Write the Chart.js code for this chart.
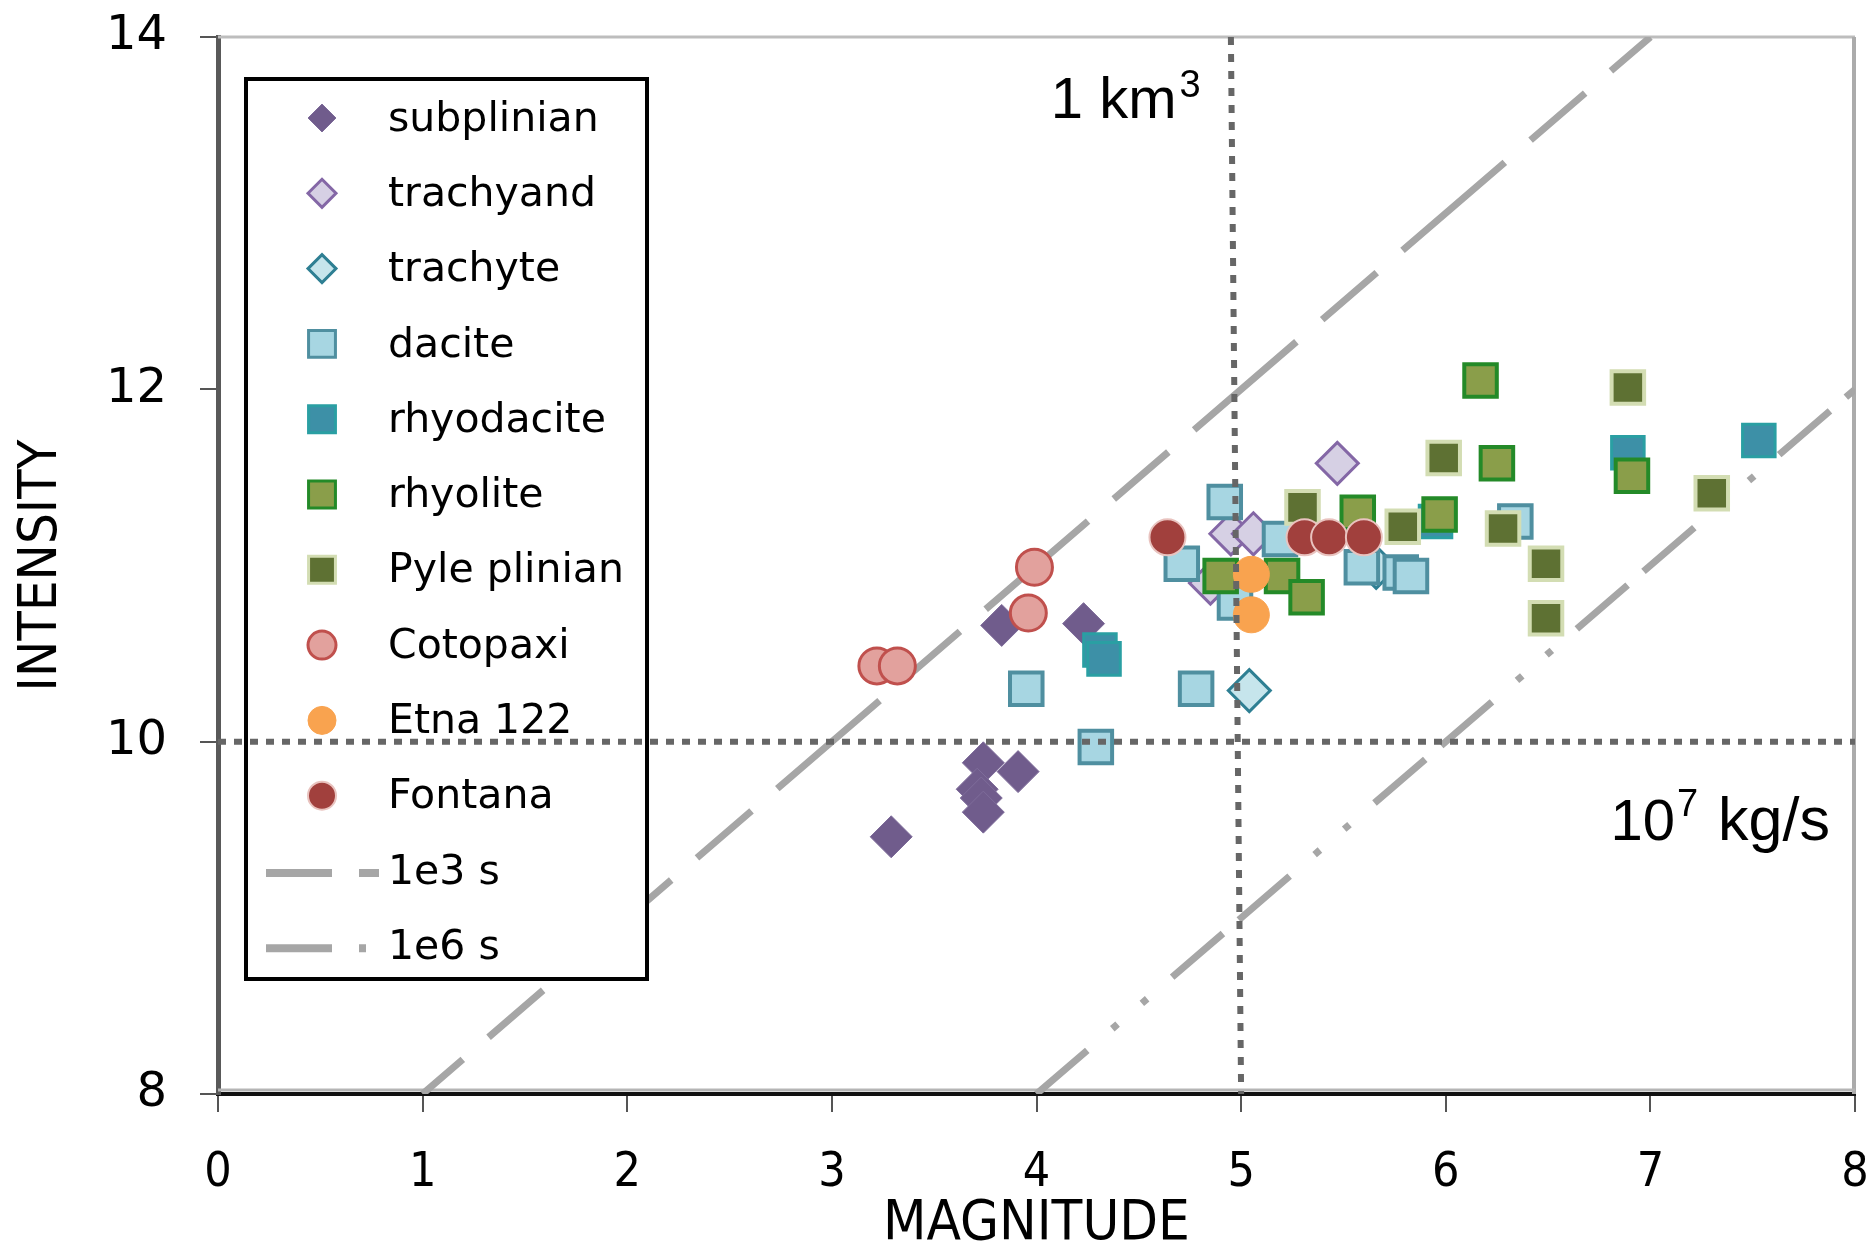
<!DOCTYPE html>
<html>
<head>
<meta charset="utf-8">
<script src="https://cdn.jsdelivr.net/npm/chart.js@4/dist/chart.umd.min.js"></script>
<style>
  html, body { margin: 0; padding: 0; background: #fff; }
  #wrap { width: 1872px; height: 1250px; }
</style>
</head>
<body>
<div id="wrap"><canvas id="c" width="1872" height="1250"></canvas></div>
<script>
// ---------------- DATA ----------------
const seriesNames = ['subplinian','trachyand','trachyte','dacite','rhyodacite','rhyolite','Pyle plinian','Cotopaxi','Etna 122','Fontana'];

const subplinianM = [3.29, 3.83, 4.23, 3.74, 3.91, 3.71, 3.73, 3.74];
const subplinianI = [9.46, 10.66, 10.67, 9.88, 9.83, 9.73, 9.68, 9.60];

const trachyandM = [5.47, 4.95, 5.06, 4.85];
const trachyandI = [11.58, 11.18, 11.18, 10.90];

const trachyteM = [5.04, 5.66];
const trachyteI = [10.29, 10.99];

const daciteM = [3.95, 4.78, 4.29, 4.71, 4.92, 5.19, 4.97, 5.59, 5.78, 5.83, 6.34];
const daciteI = [10.30, 10.30, 9.97, 11.01, 11.36, 11.15, 10.79, 10.99, 10.96, 10.94, 11.25];

const rhyodaciteM = [4.31, 4.33, 6.89, 7.53, 5.95];
const rhyodaciteI = [10.52, 10.47, 11.64, 11.71, 11.25];

const rhyoliteM = [6.17, 6.25, 6.91, 5.97, 5.57, 4.90, 5.20, 5.32];
const rhyoliteI = [12.05, 11.58, 11.51, 11.29, 11.30, 10.94, 10.94, 10.82];

const pyleM = [5.30, 5.79, 6.89, 5.99, 6.28, 6.49, 6.49, 7.30];
const pyleI = [11.33, 11.22, 12.01, 11.61, 11.21, 11.01, 10.70, 11.41];

const cotopaxiM = [3.99, 3.96, 3.22, 3.32];
const cotopaxiI = [10.99, 10.73, 10.43, 10.43];

const etnaM = [5.05, 5.05];
const etnaI = [10.95, 10.72];

const fontanaM = [4.64, 5.31, 5.43, 5.60];
const fontanaI = [11.16, 11.16, 11.16, 11.16];

// reference lines
const line1e3M = [1, 7];   const line1e3I = [8, 14];
const line1e6M = [4, 8];   const line1e6I = [8, 12];
const km3M = [4.95, 5.0];  const km3I = [14, 8];
const rateM = [0, 8];      const rateI = [10, 10];

const xTicks = [0,1,2,3,4,5,6,7,8];
const yTicks = [8,10,12,14];

// ---------------- BUILD ----------------
function pts(m, i) { return m.map((v, k) => ({ x: v, y: i[k] })); }

const styles = [
  { style: 'rectRot', r: 21, bg: '#705C8C', bc: '#7E6C9A', bw: 1, lr: 14 },
  { style: 'rectRot', r: 21, bg: '#D6D0E4', bc: '#8467A6', bw: 3, lr: 14 },
  { style: 'rectRot', r: 21, bg: '#C6E5EC', bc: '#2E7F93', bw: 3, lr: 14 },
  { style: 'rect',    r: 23, bg: '#A7D6E2', bc: '#4F8FA0', bw: 4, lr: 19 },
  { style: 'rect',    r: 23, bg: '#3D90A7', bc: '#2A9FA3', bw: 3, lr: 19 },
  { style: 'rect',    r: 23, bg: '#8A9E4A', bc: '#248A28', bw: 4, lr: 19 },
  { style: 'rect',    r: 23, bg: '#5E7133', bc: '#D3DDB3', bw: 4, lr: 19 },
  { style: 'circle',  r: 18, bg: '#E2A19D', bc: '#C0504D', bw: 3, lr: 14 },
  { style: 'circle',  r: 18, bg: '#F9A34F', bc: '#F9A34F', bw: 1, lr: 14 },
  { style: 'circle',  r: 18, bg: '#A1403D', bc: '#E9C3BF', bw: 2, lr: 14 }
];
const seriesData = [
  pts(subplinianM, subplinianI), pts(trachyandM, trachyandI), pts(trachyteM, trachyteI),
  pts(daciteM, daciteI), pts(rhyodaciteM, rhyodaciteI), pts(rhyoliteM, rhyoliteI),
  pts(pyleM, pyleI), pts(cotopaxiM, cotopaxiI), pts(etnaM, etnaI), pts(fontanaM, fontanaI)
];

const datasets = seriesNames.map((name, k) => ({
  label: name,
  data: seriesData[k],
  showLine: false,
  pointStyle: styles[k].style,
  pointRadius: styles[k].r,
  pointBackgroundColor: styles[k].bg,
  pointBorderColor: styles[k].bc,
  pointBorderWidth: styles[k].bw,
  order: 50 - k,
  kind: 'marker',
  legendStyle: styles[k]
}));

const GREY = '#A6A6A6';
datasets.push({
  label: '1e3 s', data: pts(line1e3M, line1e3I), showLine: true, pointRadius: 0,
  borderColor: GREY, borderWidth: 7, borderDash: [135, 34, 72, 34], borderDashOffset: 82,
  order: 100, kind: 'line', legendDash: [66, 27, 20]
});
datasets.push({
  label: '1e6 s', data: pts(line1e6M, line1e6I), showLine: true, pointRadius: 0,
  borderColor: GREY, borderWidth: 7, borderDash: [67, 21, 67, 33, 7, 32, 7, 33], borderDashOffset: 88,
  order: 100, kind: 'line', legendDash: [66, 27, 7, 100]
});
datasets.push({
  label: '1 km3', data: pts(km3M, km3I), showLine: true, pointRadius: 0,
  borderColor: '#666666', borderWidth: 6, borderDash: [8, 9], order: 0, kind: 'ref', clip: false
});
datasets.push({
  label: '1e7 kg/s', data: pts(rateM, rateI), showLine: true, pointRadius: 0,
  borderColor: '#666666', borderWidth: 6, borderDash: [8, 8], order: 0, kind: 'ref', clip: false
});

// ---------------- PLUGINS ----------------
let legendDrawn = false;
function drawLegend(chart) {
  const ctx = chart.ctx, ca = chart.chartArea;
  const L = ca.left + 28, T = ca.top + 42, W = 401, Hh = 900;
  ctx.save();
  ctx.fillStyle = '#ffffff';
  ctx.fillRect(L, T, W, Hh);
  ctx.lineWidth = 4;
  ctx.strokeStyle = '#000000';
  ctx.strokeRect(L, T, W, Hh);
  const items = chart.data.datasets.filter(d => d.kind === 'marker' || d.kind === 'line');
  items.forEach((d, i) => {
    const y = T + 39 + i * 75.3;
    if (d.kind === 'marker') {
      const s = d.legendStyle;
      ctx.fillStyle = s.bg; ctx.strokeStyle = s.bc; ctx.lineWidth = Math.min(s.bw, 3);
      Chart.helpers.drawPoint(ctx, { pointStyle: s.style, radius: s.lr, borderWidth: Math.min(s.bw, 3), rotation: 0 }, L + 76, y);
    } else {
      ctx.save();
      ctx.strokeStyle = GREY; ctx.lineWidth = 8; ctx.setLineDash(d.legendDash);
      ctx.beginPath(); ctx.moveTo(L + 20, y + 2); ctx.lineTo(L + 134, y + 2); ctx.stroke();
      ctx.restore();
    }
    ctx.fillStyle = '#000';
    ctx.font = '41px "DejaVu Sans"';
    ctx.textAlign = 'left';
    ctx.textBaseline = 'middle';
    ctx.fillText(d.label, L + 142, y + 2);
  });
  ctx.restore();
}

const framePlugin = {
  id: 'frame',
  beforeDatasetsDraw(chart) {
    legendDrawn = false;
    const ctx = chart.ctx, ca = chart.chartArea;
    ctx.save();
    ctx.strokeStyle = '#BDBDBD'; ctx.lineWidth = 3;
    ctx.beginPath(); ctx.moveTo(ca.left, ca.top); ctx.lineTo(ca.right, ca.top); ctx.stroke();
    ctx.strokeStyle = '#ABABAB'; ctx.lineWidth = 4;
    ctx.beginPath(); ctx.moveTo(ca.right - 1, ca.top); ctx.lineTo(ca.right - 1, ca.bottom); ctx.stroke();
    ctx.strokeStyle = '#B5B5B5'; ctx.lineWidth = 3;
    ctx.beginPath(); ctx.moveTo(ca.left, ca.bottom - 4); ctx.lineTo(ca.right, ca.bottom - 4); ctx.stroke();
    ctx.restore();
  },
  beforeDatasetDraw(chart, args) {
    const d = chart.data.datasets[args.index];
    if (d.kind === 'ref' && !legendDrawn) { drawLegend(chart); legendDrawn = true; }
  },
  afterDatasetsDraw(chart) {
    if (!legendDrawn) { drawLegend(chart); legendDrawn = true; }
    const ctx = chart.ctx, xs = chart.scales.x, ys = chart.scales.y;
    ctx.save();
    ctx.fillStyle = '#000';
    ctx.textBaseline = 'alphabetic';
    ctx.textAlign = 'left';
    // 1 km3
    let x = xs.getPixelForValue(4.07), y = ys.getPixelForValue(13.54);
    ctx.font = '58px "Liberation Sans", Arial, sans-serif';
    ctx.fillText('1 km', x, y);
    x += ctx.measureText('1 km').width + 3;
    ctx.font = '38px "Liberation Sans", Arial, sans-serif';
    ctx.fillText('3', x, y - 21);
    // 10^7 kg/s
    x = xs.getPixelForValue(6.805); y = ys.getPixelForValue(9.44);
    ctx.font = '58px "Liberation Sans", Arial, sans-serif';
    ctx.fillText('10', x, y);
    x += ctx.measureText('10').width + 2;
    ctx.font = '38px "Liberation Sans", Arial, sans-serif';
    ctx.fillText('7', x, y - 24);
    x += ctx.measureText('7').width + 20;
    ctx.font = '61px "Liberation Sans", Arial, sans-serif';
    ctx.fillText('kg/s', x, y);
    ctx.restore();
  }
};

// ---------------- CHART ----------------
const condensed = "'DejaVu Sans Condensed', 'Liberation Sans Narrow', 'DejaVu Sans', sans-serif";
new Chart(document.getElementById('c'), {
  type: 'scatter',
  data: { datasets },
  plugins: [framePlugin],
  options: {
    responsive: false,
    animation: false,
    events: [],
    layout: { autoPadding: false, padding: { top: 37, right: 17, left: 0, bottom: 0 } },
    plugins: { legend: { display: false }, tooltip: { enabled: false } },
    scales: {
      x: {
        type: 'linear', min: 0, max: 8,
        afterBuildTicks(s) { s.ticks = xTicks.map(v => ({ value: v })); },
        afterFit(s) { s.height = 156; s.paddingLeft = 0; s.paddingRight = 0; s.paddingTop = 0; s.paddingBottom = 0; },
        ticks: { color: '#000', padding: 33, maxRotation: 0, autoSkip: false,
                 font: { family: condensed, size: 48 } },
        grid: { display: true, drawOnChartArea: false, drawTicks: true, tickLength: 18, color: '#555', lineWidth: 2 },
        border: { display: true, color: '#111', width: 4 },
        title: { display: true, text: 'MAGNITUDE', color: '#000', padding: 0,
                 font: { family: condensed, size: 56, lineHeight: 0.9 } }
      },
      y: {
        type: 'linear', min: 8, max: 14,
        afterBuildTicks(s) { s.ticks = yTicks.map(v => ({ value: v })); },
        afterFit(s) { s.width = 218; s.paddingLeft = 0; s.paddingRight = 0; s.paddingTop = 0; s.paddingBottom = 0; },
        ticks: { color: '#000', padding: 33, autoSkip: false,
                 font: { family: "'DejaVu Sans', sans-serif", size: 48 } },
        grid: { display: true, drawOnChartArea: false, drawTicks: true, tickLength: 18, color: '#555', lineWidth: 2 },
        border: { display: true, color: '#595959', width: 5 },
        title: { display: true, text: 'INTENSITY', color: '#000', padding: { top: 10, bottom: 0 },
                 font: { family: condensed, size: 54, lineHeight: 1.2 } }
      }
    }
  }
});
</script>
</body>
</html>
